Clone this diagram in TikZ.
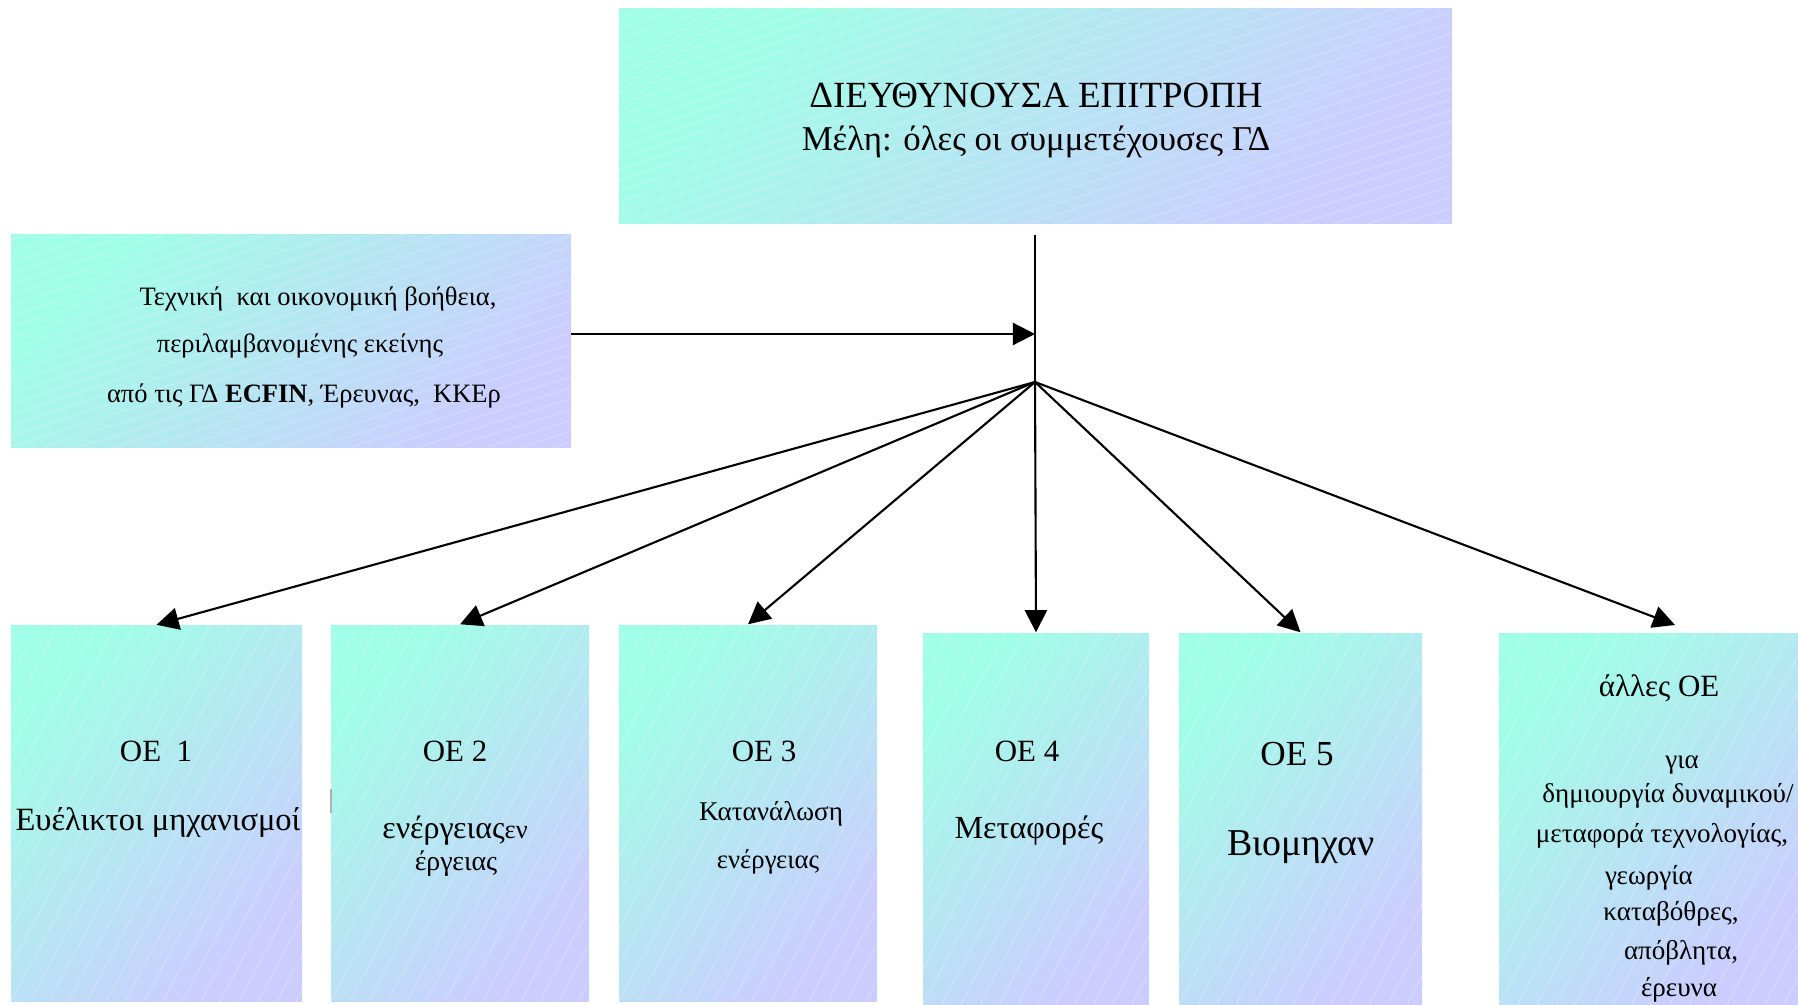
\documentclass[tikz,border=0pt]{standalone}
\usepackage{fontspec}
\setmainfont{Liberation Serif}
\usetikzlibrary{arrows.meta,calc}
\definecolor{gA}{HTML}{A0FFE6}
\definecolor{gB}{HTML}{CCCCFF}
\tikzset{
  fsz/.style={font=\fontsize{#1}{#1}\selectfont},
  gbox/.style={rectangle, draw=none, inner sep=0pt,
    top color=gA, bottom color=gB, shading angle=45},
  stripes/.style n args={3}{path picture={
    \foreach \i in {-70,...,70}{
      \draw[white, opacity=0.22, line width=0.3pt]
        ($(path picture bounding box.south west)+(\i*#1,0)$) -- ++(#2,#3);}}},
  wide/.style={stripes={34}{2000}{-640}},
  tall/.style={stripes={19}{530}{-1000}},
  txt/.style={inner sep=0pt, anchor=base, text=black},
  conn/.style={-{Triangle[length=6.3pt,width=6.3pt]}, line width=0.6pt, black},
  plain/.style={line width=0.6pt, black}
}
\begin{document}
\begin{tikzpicture}[x=0.1mm, y=-0.1mm]
\useasboundingbox (0,0) rectangle (1798,1004);
% boxes
\node[gbox, wide, minimum width=83.3mm, minimum height=21.5mm] (top) at (1035.5,116.5) {};
\node[gbox, wide, minimum width=56mm, minimum height=21.2mm] (left) at (291,341) {};
\node[gbox, tall, minimum width=29.1mm, minimum height=37.6mm] (oe1) at (156.5,813.5) {};
\node[gbox, tall, minimum width=25.8mm, minimum height=37.6mm] (oe2) at (460,813) {};
\node[gbox, tall, minimum width=25.8mm, minimum height=37.6mm] (oe3) at (748,813) {};
\node[gbox, tall, minimum width=22.6mm, minimum height=37.1mm] (oe4) at (1036,818.5) {};
\node[gbox, tall, minimum width=24.3mm, minimum height=37.1mm] (oe5) at (1300.5,818.5) {};
\node[gbox, tall, minimum width=29.9mm, minimum height=37.1mm] (oe6) at (1648.5,818.5) {};
\draw[gray!60, line width=0.5pt] (331,789) -- (331,813);
% texts
\node[txt, fsz=10.5pt] (ttl) at (1036,108) {ΔΙΕΥΘΥΝΟΥΣΑ ΕΠΙΤΡΟΠΗ};
\node[txt, fsz=9.9pt] (mem) at (1036,151) {Μέλη: όλες οι συμμετέχουσες ΓΔ};
\node[txt, fsz=7.55pt] (l1) at (318,306) {Τεχνική\ \ και οικονομική βοήθεια,};
\node[txt, fsz=7.55pt] (l2) at (300,353) {περιλαμβανομένης εκείνης};
\node[txt, fsz=7.55pt] (l3) at (304,402) {από τις ΓΔ \textbf{ECFIN}, Έρευνας,\ \ ΚΚΕρ};
\node[txt, fsz=8.8pt] (a1) at (156,761) {ΟΕ\ \ 1};
\node[txt, fsz=9.25pt] (b1) at (158,830) {Ευέλικτοι μηχανισμοί};
\node[txt, fsz=8.8pt] (a2) at (455,761) {ΟΕ 2};
\node[txt, fsz=9.1pt] (b2) at (455,838) {ενέργειας{\fontsize{7.5pt}{7.5pt}\selectfont εν}};
\node[txt, fsz=7.95pt] (c2) at (456,870) {έργειας};
\node[txt, fsz=8.8pt] (a3) at (764,761) {ΟΕ 3};
\node[txt, fsz=7.7pt] (b3) at (771,820) {Κατανάλωση};
\node[txt, fsz=7.6pt] (c3) at (768,868) {ενέργειας};
\node[txt, fsz=8.8pt] (a4) at (1027,761) {ΟΕ 4};
\node[txt, fsz=9.15pt] (b4) at (1029,838) {Μεταφορές};
\node[txt, fsz=10pt] (a5) at (1297,765) {ΟΕ 5};
\node[txt, fsz=10.8pt] (b5) at (1301,855) {Βιομηχαν};
\node[txt, fsz=8.8pt] (a6) at (1659,696) {άλλες ΟΕ};
\node[txt, fsz=7.7pt] (b6) at (1682,768) {για};
\node[txt, fsz=7.7pt] (c6) at (1668,802) {δημιουργία δυναμικού/};
\node[txt, fsz=7.7pt] (d6) at (1662,842) {μεταφορά τεχνολογίας,};
\node[txt, fsz=7.7pt] (e6) at (1649,884) {γεωργία};
\node[txt, fsz=7.7pt] (f6) at (1671,920) {καταβόθρες,};
\node[txt, fsz=7.7pt] (g6) at (1681,959) {απόβλητα,};
\node[txt, fsz=7.7pt] (h6) at (1679,996) {έρευνα};
% connectors
\coordinate (vtop) at (1035,235);
\coordinate (j) at (1035,382);
\coordinate (hs) at (571,334);
\coordinate (he) at (1035,334);
\coordinate (t6) at (1675,625);
\draw[plain] (vtop) -- (j);
\draw[conn] (hs) -- (he);
\draw[conn] (j) -- (oe1.north);
\draw[conn] (j) -- (oe2.north);
\draw[conn] (j) -- (oe3.north);
\draw[conn] (j) -- (oe4.north);
\draw[conn] (j) -- (oe5.north);
\draw[conn] (j) -- (t6);
\end{tikzpicture}
\end{document}
